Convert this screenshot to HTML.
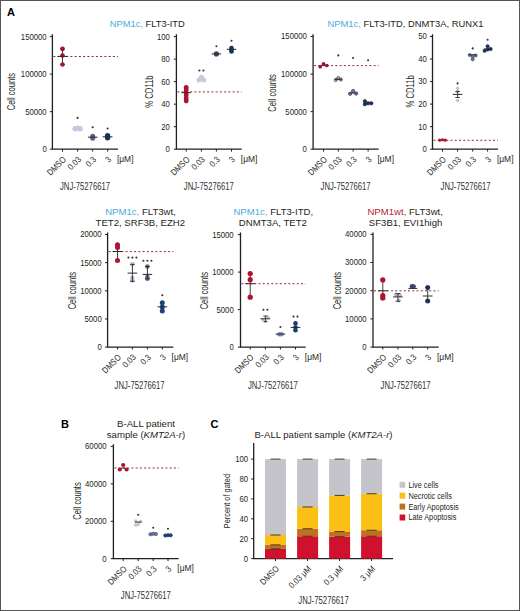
<!DOCTYPE html>
<html><head><meta charset="utf-8"><style>
html,body{margin:0;padding:0;background:#fff;}
svg{display:block;font-family:"Liberation Sans", sans-serif;}
</style></head><body>
<svg width="520" height="611" viewBox="0 0 520 611">
<rect x="0.5" y="0.5" width="519" height="610" fill="#fff" stroke="#555" stroke-width="1"/>
<text x="7.00" y="16.20" font-size="11" text-anchor="start" fill="#000" font-weight="bold">A</text>
<text x="61.00" y="428.20" font-size="11" text-anchor="start" fill="#000" font-weight="bold">B</text>
<text x="210.50" y="428.20" font-size="11" text-anchor="start" fill="#000" font-weight="bold">C</text>
<text x="109.8" y="26.9" font-size="9.6" fill="#231f20" textLength="75" lengthAdjust="spacingAndGlyphs"><tspan fill="#4aaade">NPM1c,</tspan> FLT3-ITD</text>
<text x="327.5" y="26.9" font-size="9.6" fill="#231f20" textLength="156" lengthAdjust="spacingAndGlyphs"><tspan fill="#4aaade">NPM1c,</tspan> FLT3-ITD, DNMT3A, RUNX1</text>
<text x="140.5" y="214.6" font-size="9.6" fill="#231f20" text-anchor="middle"><tspan fill="#4aaade">NPM1c,</tspan> FLT3wt,</text>
<text x="140.30" y="226.20" font-size="9.6" text-anchor="middle" fill="#231f20">TET2, SRF3B, EZH2</text>
<text x="273.3" y="214.6" font-size="9.6" fill="#231f20" text-anchor="middle"><tspan fill="#4aaade">NPM1c,</tspan> FLT3-ITD,</text>
<text x="272.90" y="226.20" font-size="9.6" text-anchor="middle" fill="#231f20">DNMT3A, TET2</text>
<text x="405.2" y="214.6" font-size="9.6" fill="#231f20" text-anchor="middle"><tspan fill="#b81c36">NPM1wt,</tspan> FLT3wt,</text>
<text x="405.60" y="226.20" font-size="9.6" text-anchor="middle" fill="#231f20">SF3B1, EVI1high</text>
<text x="146.00" y="426.80" font-size="9.6" text-anchor="middle" fill="#231f20">B-ALL patient</text>
<text x="146" y="438.4" font-size="9.6" fill="#231f20" text-anchor="middle">sample (<tspan font-style="italic">KMT2A-r</tspan>)</text>
<text x="254.5" y="438.4" font-size="9.6" fill="#231f20" textLength="138" lengthAdjust="spacingAndGlyphs">B-ALL patient sample (<tspan font-style="italic">KMT2A-r</tspan>)</text>
<path d="M52.40 34.20 V149.20 H118.00" fill="none" stroke="#231f20" stroke-width="1.3"/>
<path d="M49.80 149.20 H52.40" stroke="#231f20" stroke-width="1"/>
<text x="46.70" y="152.10" font-size="8.2" text-anchor="end" fill="#231f20" textLength="4.31" lengthAdjust="spacingAndGlyphs">0</text>
<path d="M49.80 111.67 H52.40" stroke="#231f20" stroke-width="1"/>
<text x="46.70" y="114.57" font-size="8.2" text-anchor="end" fill="#231f20" textLength="21.55" lengthAdjust="spacingAndGlyphs">50000</text>
<path d="M49.80 74.13 H52.40" stroke="#231f20" stroke-width="1"/>
<text x="46.70" y="77.03" font-size="8.2" text-anchor="end" fill="#231f20" textLength="25.86" lengthAdjust="spacingAndGlyphs">100000</text>
<path d="M49.80 36.60 H52.40" stroke="#231f20" stroke-width="1"/>
<text x="46.70" y="39.50" font-size="8.2" text-anchor="end" fill="#231f20" textLength="25.86" lengthAdjust="spacingAndGlyphs">150000</text>
<path d="M62.50 149.20 V151.60" stroke="#231f20" stroke-width="1"/>
<path d="M77.60 149.20 V151.60" stroke="#231f20" stroke-width="1"/>
<path d="M92.70 149.20 V151.60" stroke="#231f20" stroke-width="1"/>
<path d="M107.60 149.20 V151.60" stroke="#231f20" stroke-width="1"/>
<text x="66.60" y="160.00" font-size="8.8" text-anchor="end" fill="#231f20" textLength="22.70" lengthAdjust="spacingAndGlyphs" transform="rotate(-45 66.60 160.00)">DMSO</text>
<text x="81.70" y="160.00" font-size="8.8" text-anchor="end" fill="#231f20" textLength="14.73" lengthAdjust="spacingAndGlyphs" transform="rotate(-45 81.70 160.00)">0.03</text>
<text x="96.80" y="160.00" font-size="8.8" text-anchor="end" fill="#231f20" textLength="10.52" lengthAdjust="spacingAndGlyphs" transform="rotate(-45 96.80 160.00)">0.3</text>
<text x="111.70" y="160.00" font-size="8.8" text-anchor="end" fill="#231f20" textLength="4.21" lengthAdjust="spacingAndGlyphs" transform="rotate(-45 111.70 160.00)">3</text>
<text x="116.90" y="161.70" font-size="8.2" text-anchor="start" fill="#231f20" textLength="16.60" lengthAdjust="spacingAndGlyphs">[μM]</text>
<text x="85.00" y="189.80" font-size="10.4" text-anchor="middle" fill="#333" textLength="50.00" lengthAdjust="spacingAndGlyphs">JNJ-75276617</text>
<text x="15.30" y="91.60" font-size="10.0" text-anchor="middle" fill="#231f20" textLength="37.50" lengthAdjust="spacingAndGlyphs" transform="rotate(-90 15.30 91.60)">Cell counts</text>
<path d="M53.40 56.50 H118.00" stroke="#8e2a42" stroke-width="1" stroke-dasharray="2 2.25"/>
<path d="M62.50 48.90 V64.50 M60.20 48.90 H64.80 M60.20 64.50 H64.80" stroke="#2a2a2a" stroke-width="0.9" fill="none"/>
<circle cx="62.50" cy="48.90" r="2.3" fill="#a3142f"/>
<circle cx="62.50" cy="55.50" r="2.3" fill="#a3142f"/>
<circle cx="62.50" cy="64.50" r="2.3" fill="#a3142f"/>
<path d="M57.30 56.40 H67.70" stroke="#2a2a2a" stroke-width="1"/>
<circle cx="75.10" cy="128.80" r="2.7" fill="#c6c6de"/>
<circle cx="77.60" cy="128.20" r="2.7" fill="#c6c6de"/>
<circle cx="80.10" cy="128.80" r="2.7" fill="#c6c6de"/>
<circle cx="77.60" cy="117.90" r="1.05" fill="#333"/>
<circle cx="92.70" cy="136.20" r="2.5" fill="#58637e"/>
<circle cx="92.70" cy="138.20" r="2.5" fill="#58637e"/>
<path d="M87.90 137.20 H97.50" stroke="#2a2a2a" stroke-width="1"/>
<circle cx="92.70" cy="127.30" r="1.05" fill="#333"/>
<circle cx="107.60" cy="135.80" r="2.7" fill="#16365c"/>
<circle cx="107.60" cy="137.80" r="2.7" fill="#16365c"/>
<path d="M102.70 136.80 H112.50" stroke="#2a2a2a" stroke-width="1"/>
<circle cx="107.60" cy="128.50" r="1.05" fill="#333"/>
<path d="M176.40 34.20 V149.20 H241.70" fill="none" stroke="#231f20" stroke-width="1.3"/>
<path d="M173.80 149.20 H176.40" stroke="#231f20" stroke-width="1"/>
<text x="169.90" y="152.10" font-size="8.2" text-anchor="end" fill="#231f20" textLength="4.31" lengthAdjust="spacingAndGlyphs">0</text>
<path d="M173.80 126.68 H176.40" stroke="#231f20" stroke-width="1"/>
<text x="169.90" y="129.58" font-size="8.2" text-anchor="end" fill="#231f20" textLength="8.62" lengthAdjust="spacingAndGlyphs">20</text>
<path d="M173.80 104.16 H176.40" stroke="#231f20" stroke-width="1"/>
<text x="169.90" y="107.06" font-size="8.2" text-anchor="end" fill="#231f20" textLength="8.62" lengthAdjust="spacingAndGlyphs">40</text>
<path d="M173.80 81.64 H176.40" stroke="#231f20" stroke-width="1"/>
<text x="169.90" y="84.54" font-size="8.2" text-anchor="end" fill="#231f20" textLength="8.62" lengthAdjust="spacingAndGlyphs">60</text>
<path d="M173.80 59.12 H176.40" stroke="#231f20" stroke-width="1"/>
<text x="169.90" y="62.02" font-size="8.2" text-anchor="end" fill="#231f20" textLength="8.62" lengthAdjust="spacingAndGlyphs">80</text>
<path d="M173.80 36.60 H176.40" stroke="#231f20" stroke-width="1"/>
<text x="169.90" y="39.50" font-size="8.2" text-anchor="end" fill="#231f20" textLength="12.93" lengthAdjust="spacingAndGlyphs">100</text>
<path d="M186.20 149.20 V151.60" stroke="#231f20" stroke-width="1"/>
<path d="M201.40 149.20 V151.60" stroke="#231f20" stroke-width="1"/>
<path d="M216.40 149.20 V151.60" stroke="#231f20" stroke-width="1"/>
<path d="M231.50 149.20 V151.60" stroke="#231f20" stroke-width="1"/>
<text x="190.30" y="160.00" font-size="8.8" text-anchor="end" fill="#231f20" textLength="22.70" lengthAdjust="spacingAndGlyphs" transform="rotate(-45 190.30 160.00)">DMSO</text>
<text x="205.50" y="160.00" font-size="8.8" text-anchor="end" fill="#231f20" textLength="14.73" lengthAdjust="spacingAndGlyphs" transform="rotate(-45 205.50 160.00)">0.03</text>
<text x="220.50" y="160.00" font-size="8.8" text-anchor="end" fill="#231f20" textLength="10.52" lengthAdjust="spacingAndGlyphs" transform="rotate(-45 220.50 160.00)">0.3</text>
<text x="235.60" y="160.00" font-size="8.8" text-anchor="end" fill="#231f20" textLength="4.21" lengthAdjust="spacingAndGlyphs" transform="rotate(-45 235.60 160.00)">3</text>
<text x="240.80" y="161.70" font-size="8.2" text-anchor="start" fill="#231f20" textLength="16.60" lengthAdjust="spacingAndGlyphs">[μM]</text>
<text x="208.80" y="189.80" font-size="10.4" text-anchor="middle" fill="#333" textLength="50.00" lengthAdjust="spacingAndGlyphs">JNJ-75276617</text>
<text x="153.30" y="91.50" font-size="11" text-anchor="middle" fill="#231f20" textLength="32.30" lengthAdjust="spacingAndGlyphs" transform="rotate(-90 153.30 91.50)">% CD11b</text>
<path d="M177.40 91.90 H241.70" stroke="#8e2a42" stroke-width="1" stroke-dasharray="2 2.25"/>
<path d="M186.20 88.00 V100.00 M183.90 88.00 H188.50 M183.90 100.00 H188.50" stroke="#2a2a2a" stroke-width="0.9" fill="none"/>
<circle cx="186.20" cy="87.50" r="2.4" fill="#b0122f"/>
<circle cx="186.20" cy="90.00" r="2.4" fill="#b0122f"/>
<circle cx="186.20" cy="92.50" r="2.4" fill="#b0122f"/>
<circle cx="186.20" cy="95.00" r="2.4" fill="#b0122f"/>
<circle cx="186.20" cy="98.00" r="2.4" fill="#b0122f"/>
<circle cx="186.20" cy="101.00" r="2.4" fill="#b0122f"/>
<path d="M181.40 92.70 H191.00" stroke="#2a2a2a" stroke-width="1"/>
<circle cx="201.40" cy="77.20" r="2.5" fill="#c8c8de"/>
<circle cx="199.00" cy="80.00" r="2.5" fill="#c8c8de"/>
<circle cx="203.80" cy="80.00" r="2.5" fill="#c8c8de"/>
<circle cx="199.40" cy="70.50" r="1.05" fill="#333"/>
<circle cx="203.40" cy="70.50" r="1.05" fill="#333"/>
<circle cx="216.40" cy="53.90" r="2.6" fill="#3e4762"/>
<path d="M211.70 53.90 H221.10" stroke="#2a2a2a" stroke-width="1"/>
<circle cx="216.40" cy="46.20" r="1.05" fill="#333"/>
<circle cx="231.50" cy="48.00" r="2.3" fill="#16365c"/>
<circle cx="231.50" cy="50.00" r="2.3" fill="#16365c"/>
<circle cx="231.50" cy="51.40" r="2.3" fill="#16365c"/>
<path d="M226.70 49.30 H236.30" stroke="#2a2a2a" stroke-width="1"/>
<circle cx="231.50" cy="40.80" r="1.05" fill="#333"/>
<path d="M313.10 34.20 V149.20 H378.60" fill="none" stroke="#231f20" stroke-width="1.3"/>
<path d="M310.50 149.20 H313.10" stroke="#231f20" stroke-width="1"/>
<text x="306.90" y="152.10" font-size="8.2" text-anchor="end" fill="#231f20" textLength="4.31" lengthAdjust="spacingAndGlyphs">0</text>
<path d="M310.50 111.63 H313.10" stroke="#231f20" stroke-width="1"/>
<text x="306.90" y="114.53" font-size="8.2" text-anchor="end" fill="#231f20" textLength="21.55" lengthAdjust="spacingAndGlyphs">50000</text>
<path d="M310.50 74.07 H313.10" stroke="#231f20" stroke-width="1"/>
<text x="306.90" y="76.97" font-size="8.2" text-anchor="end" fill="#231f20" textLength="25.86" lengthAdjust="spacingAndGlyphs">100000</text>
<path d="M310.50 36.50 H313.10" stroke="#231f20" stroke-width="1"/>
<text x="306.90" y="39.40" font-size="8.2" text-anchor="end" fill="#231f20" textLength="25.86" lengthAdjust="spacingAndGlyphs">150000</text>
<path d="M323.50 149.20 V151.60" stroke="#231f20" stroke-width="1"/>
<path d="M338.30 149.20 V151.60" stroke="#231f20" stroke-width="1"/>
<path d="M353.10 149.20 V151.60" stroke="#231f20" stroke-width="1"/>
<path d="M368.10 149.20 V151.60" stroke="#231f20" stroke-width="1"/>
<text x="327.60" y="160.00" font-size="8.8" text-anchor="end" fill="#231f20" textLength="22.70" lengthAdjust="spacingAndGlyphs" transform="rotate(-45 327.60 160.00)">DMSO</text>
<text x="342.40" y="160.00" font-size="8.8" text-anchor="end" fill="#231f20" textLength="14.73" lengthAdjust="spacingAndGlyphs" transform="rotate(-45 342.40 160.00)">0.03</text>
<text x="357.20" y="160.00" font-size="8.8" text-anchor="end" fill="#231f20" textLength="10.52" lengthAdjust="spacingAndGlyphs" transform="rotate(-45 357.20 160.00)">0.3</text>
<text x="372.20" y="160.00" font-size="8.8" text-anchor="end" fill="#231f20" textLength="4.21" lengthAdjust="spacingAndGlyphs" transform="rotate(-45 372.20 160.00)">3</text>
<text x="377.40" y="161.70" font-size="8.2" text-anchor="start" fill="#231f20" textLength="16.60" lengthAdjust="spacingAndGlyphs">[μM]</text>
<text x="345.60" y="189.80" font-size="10.4" text-anchor="middle" fill="#333" textLength="50.00" lengthAdjust="spacingAndGlyphs">JNJ-75276617</text>
<text x="275.90" y="92.90" font-size="10.0" text-anchor="middle" fill="#231f20" textLength="37.50" lengthAdjust="spacingAndGlyphs" transform="rotate(-90 275.90 92.90)">Cell counts</text>
<path d="M314.10 65.60 H378.60" stroke="#8e2a42" stroke-width="1" stroke-dasharray="2 2.25"/>
<circle cx="320.20" cy="66.70" r="1.85" fill="#9a1530"/>
<circle cx="323.50" cy="63.80" r="1.85" fill="#9a1530"/>
<circle cx="326.80" cy="65.50" r="1.85" fill="#9a1530"/>
<path d="M321.30 65.30 H325.70" stroke="#2a2a2a" stroke-width="1"/>
<circle cx="335.70" cy="80.00" r="1.6" fill="#a8a8b0" stroke="#2a2a2a" stroke-width="0.6"/>
<circle cx="338.30" cy="78.00" r="1.6" fill="#a8a8b0" stroke="#2a2a2a" stroke-width="0.6"/>
<circle cx="340.90" cy="79.50" r="1.6" fill="#a8a8b0" stroke="#2a2a2a" stroke-width="0.6"/>
<path d="M334.80 79.30 H341.80" stroke="#2a2a2a" stroke-width="1"/>
<circle cx="338.30" cy="55.40" r="1.05" fill="#333"/>
<circle cx="350.10" cy="93.80" r="1.7" fill="#6a7898" stroke="#2b3350" stroke-width="0.6"/>
<circle cx="353.10" cy="91.00" r="1.7" fill="#6a7898" stroke="#2b3350" stroke-width="0.6"/>
<circle cx="356.10" cy="93.50" r="1.7" fill="#6a7898" stroke="#2b3350" stroke-width="0.6"/>
<path d="M349.60 93.00 H356.60" stroke="#2a2a2a" stroke-width="1"/>
<circle cx="353.10" cy="58.00" r="1.05" fill="#333"/>
<circle cx="364.90" cy="101.20" r="1.7" fill="#1a3560" stroke="#10203c" stroke-width="0.6"/>
<circle cx="364.90" cy="104.20" r="1.7" fill="#1a3560" stroke="#10203c" stroke-width="0.6"/>
<circle cx="368.10" cy="103.30" r="1.7" fill="#1a3560" stroke="#10203c" stroke-width="0.6"/>
<circle cx="371.30" cy="103.30" r="1.7" fill="#1a3560" stroke="#10203c" stroke-width="0.6"/>
<path d="M364.60 103.00 H371.60" stroke="#2a2a2a" stroke-width="1"/>
<circle cx="368.10" cy="60.20" r="1.05" fill="#333"/>
<path d="M432.50 34.20 V149.20 H498.00" fill="none" stroke="#231f20" stroke-width="1.3"/>
<path d="M429.90 149.20 H432.50" stroke="#231f20" stroke-width="1"/>
<text x="426.90" y="152.10" font-size="8.2" text-anchor="end" fill="#231f20" textLength="4.31" lengthAdjust="spacingAndGlyphs">0</text>
<path d="M429.90 126.66 H432.50" stroke="#231f20" stroke-width="1"/>
<text x="426.90" y="129.56" font-size="8.2" text-anchor="end" fill="#231f20" textLength="8.62" lengthAdjust="spacingAndGlyphs">10</text>
<path d="M429.90 104.12 H432.50" stroke="#231f20" stroke-width="1"/>
<text x="426.90" y="107.02" font-size="8.2" text-anchor="end" fill="#231f20" textLength="8.62" lengthAdjust="spacingAndGlyphs">20</text>
<path d="M429.90 81.58 H432.50" stroke="#231f20" stroke-width="1"/>
<text x="426.90" y="84.48" font-size="8.2" text-anchor="end" fill="#231f20" textLength="8.62" lengthAdjust="spacingAndGlyphs">30</text>
<path d="M429.90 59.04 H432.50" stroke="#231f20" stroke-width="1"/>
<text x="426.90" y="61.94" font-size="8.2" text-anchor="end" fill="#231f20" textLength="8.62" lengthAdjust="spacingAndGlyphs">40</text>
<path d="M429.90 36.50 H432.50" stroke="#231f20" stroke-width="1"/>
<text x="426.90" y="39.40" font-size="8.2" text-anchor="end" fill="#231f20" textLength="8.62" lengthAdjust="spacingAndGlyphs">50</text>
<path d="M442.50 149.20 V151.60" stroke="#231f20" stroke-width="1"/>
<path d="M457.60 149.20 V151.60" stroke="#231f20" stroke-width="1"/>
<path d="M472.70 149.20 V151.60" stroke="#231f20" stroke-width="1"/>
<path d="M487.60 149.20 V151.60" stroke="#231f20" stroke-width="1"/>
<text x="446.60" y="160.00" font-size="8.8" text-anchor="end" fill="#231f20" textLength="22.70" lengthAdjust="spacingAndGlyphs" transform="rotate(-45 446.60 160.00)">DMSO</text>
<text x="461.70" y="160.00" font-size="8.8" text-anchor="end" fill="#231f20" textLength="14.73" lengthAdjust="spacingAndGlyphs" transform="rotate(-45 461.70 160.00)">0.03</text>
<text x="476.80" y="160.00" font-size="8.8" text-anchor="end" fill="#231f20" textLength="10.52" lengthAdjust="spacingAndGlyphs" transform="rotate(-45 476.80 160.00)">0.3</text>
<text x="491.70" y="160.00" font-size="8.8" text-anchor="end" fill="#231f20" textLength="4.21" lengthAdjust="spacingAndGlyphs" transform="rotate(-45 491.70 160.00)">3</text>
<text x="496.90" y="161.70" font-size="8.2" text-anchor="start" fill="#231f20" textLength="16.60" lengthAdjust="spacingAndGlyphs">[μM]</text>
<text x="465.60" y="189.80" font-size="10.4" text-anchor="middle" fill="#333" textLength="50.00" lengthAdjust="spacingAndGlyphs">JNJ-75276617</text>
<text x="414.30" y="91.40" font-size="11" text-anchor="middle" fill="#231f20" textLength="32.30" lengthAdjust="spacingAndGlyphs" transform="rotate(-90 414.30 91.40)">% CD11b</text>
<path d="M433.50 140.30 H498.00" stroke="#8e2a42" stroke-width="1" stroke-dasharray="2 2.25"/>
<circle cx="439.70" cy="140.20" r="1.6" fill="#b0122f"/>
<circle cx="442.50" cy="139.80" r="1.6" fill="#b0122f"/>
<circle cx="445.30" cy="140.20" r="1.6" fill="#b0122f"/>
<circle cx="457.60" cy="88.30" r="1.7" fill="#c4c4cc"/>
<circle cx="457.60" cy="91.50" r="1.7" fill="#c4c4cc"/>
<circle cx="457.60" cy="100.40" r="1.7" fill="#c4c4cc"/>
<path d="M457.60 91.40 V97.50 M455.30 91.40 H459.90 M455.30 97.50 H459.90" stroke="#2a2a2a" stroke-width="0.9" fill="none"/>
<path d="M452.80 94.40 H462.40" stroke="#2a2a2a" stroke-width="1"/>
<circle cx="457.60" cy="83.40" r="1.05" fill="#333"/>
<circle cx="469.70" cy="55.00" r="1.6" fill="#6d7b9a" stroke="#2b3350" stroke-width="0.5"/>
<circle cx="475.70" cy="55.50" r="1.6" fill="#6d7b9a" stroke="#2b3350" stroke-width="0.5"/>
<circle cx="472.70" cy="56.50" r="1.6" fill="#6d7b9a" stroke="#2b3350" stroke-width="0.5"/>
<circle cx="472.70" cy="59.30" r="1.6" fill="#6d7b9a" stroke="#2b3350" stroke-width="0.5"/>
<path d="M468.90 54.80 H476.50" stroke="#2a2a2a" stroke-width="1"/>
<circle cx="472.70" cy="48.40" r="1.05" fill="#333"/>
<circle cx="487.60" cy="46.30" r="1.7" fill="#1d3a64" stroke="#0f1e38" stroke-width="0.5"/>
<circle cx="484.60" cy="50.80" r="1.7" fill="#1d3a64" stroke="#0f1e38" stroke-width="0.5"/>
<circle cx="487.60" cy="49.50" r="1.7" fill="#1d3a64" stroke="#0f1e38" stroke-width="0.5"/>
<circle cx="490.60" cy="49.00" r="1.7" fill="#1d3a64" stroke="#0f1e38" stroke-width="0.5"/>
<path d="M483.80 49.00 H491.40" stroke="#2a2a2a" stroke-width="1"/>
<circle cx="487.60" cy="39.80" r="1.05" fill="#333"/>
<path d="M107.60 232.40 V347.10 H173.40" fill="none" stroke="#231f20" stroke-width="1.3"/>
<path d="M105.00 347.10 H107.60" stroke="#231f20" stroke-width="1"/>
<text x="101.70" y="350.00" font-size="8.2" text-anchor="end" fill="#231f20" textLength="4.31" lengthAdjust="spacingAndGlyphs">0</text>
<path d="M105.00 318.95 H107.60" stroke="#231f20" stroke-width="1"/>
<text x="101.70" y="321.85" font-size="8.2" text-anchor="end" fill="#231f20" textLength="17.24" lengthAdjust="spacingAndGlyphs">5000</text>
<path d="M105.00 290.80 H107.60" stroke="#231f20" stroke-width="1"/>
<text x="101.70" y="293.70" font-size="8.2" text-anchor="end" fill="#231f20" textLength="21.55" lengthAdjust="spacingAndGlyphs">10000</text>
<path d="M105.00 262.65 H107.60" stroke="#231f20" stroke-width="1"/>
<text x="101.70" y="265.55" font-size="8.2" text-anchor="end" fill="#231f20" textLength="21.55" lengthAdjust="spacingAndGlyphs">15000</text>
<path d="M105.00 234.50 H107.60" stroke="#231f20" stroke-width="1"/>
<text x="101.70" y="237.40" font-size="8.2" text-anchor="end" fill="#231f20" textLength="21.55" lengthAdjust="spacingAndGlyphs">20000</text>
<path d="M117.50 347.10 V349.50" stroke="#231f20" stroke-width="1"/>
<path d="M132.40 347.10 V349.50" stroke="#231f20" stroke-width="1"/>
<path d="M147.40 347.10 V349.50" stroke="#231f20" stroke-width="1"/>
<path d="M162.30 347.10 V349.50" stroke="#231f20" stroke-width="1"/>
<text x="121.60" y="357.90" font-size="8.8" text-anchor="end" fill="#231f20" textLength="22.70" lengthAdjust="spacingAndGlyphs" transform="rotate(-45 121.60 357.90)">DMSO</text>
<text x="136.50" y="357.90" font-size="8.8" text-anchor="end" fill="#231f20" textLength="14.73" lengthAdjust="spacingAndGlyphs" transform="rotate(-45 136.50 357.90)">0.03</text>
<text x="151.50" y="357.90" font-size="8.8" text-anchor="end" fill="#231f20" textLength="10.52" lengthAdjust="spacingAndGlyphs" transform="rotate(-45 151.50 357.90)">0.3</text>
<text x="166.40" y="357.90" font-size="8.8" text-anchor="end" fill="#231f20" textLength="4.21" lengthAdjust="spacingAndGlyphs" transform="rotate(-45 166.40 357.90)">3</text>
<text x="171.60" y="359.60" font-size="8.2" text-anchor="start" fill="#231f20" textLength="16.60" lengthAdjust="spacingAndGlyphs">[μM]</text>
<text x="139.60" y="389.40" font-size="10.4" text-anchor="middle" fill="#333" textLength="50.00" lengthAdjust="spacingAndGlyphs">JNJ-75276617</text>
<text x="75.60" y="290.60" font-size="10.0" text-anchor="middle" fill="#231f20" textLength="37.50" lengthAdjust="spacingAndGlyphs" transform="rotate(-90 75.60 290.60)">Cell counts</text>
<path d="M108.60 251.60 H173.40" stroke="#8e2a42" stroke-width="1" stroke-dasharray="2 2.25"/>
<path d="M117.50 244.80 V260.60 M115.20 244.80 H119.80 M115.20 260.60 H119.80" stroke="#2a2a2a" stroke-width="0.9" fill="none"/>
<circle cx="117.50" cy="244.80" r="2.5" fill="#b0122f"/>
<circle cx="117.50" cy="247.50" r="2.5" fill="#b0122f"/>
<circle cx="117.50" cy="260.60" r="2.5" fill="#b0122f"/>
<path d="M112.70 251.50 H122.30" stroke="#2a2a2a" stroke-width="1"/>
<circle cx="132.40" cy="264.20" r="2.2" fill="#b4b8d2"/>
<circle cx="132.40" cy="278.00" r="2.2" fill="#b4b8d2"/>
<circle cx="132.40" cy="280.60" r="2.2" fill="#b4b8d2"/>
<path d="M132.40 264.40 V281.30 M130.10 264.40 H134.70 M130.10 281.30 H134.70" stroke="#2a2a2a" stroke-width="0.9" fill="none"/>
<path d="M127.60 273.10 H137.20" stroke="#2a2a2a" stroke-width="1"/>
<circle cx="128.40" cy="257.60" r="1.05" fill="#333"/>
<circle cx="132.40" cy="257.60" r="1.05" fill="#333"/>
<circle cx="136.40" cy="257.60" r="1.05" fill="#333"/>
<circle cx="147.40" cy="266.50" r="2.3" fill="#5d6e92"/>
<circle cx="147.40" cy="277.00" r="2.3" fill="#5d6e92"/>
<circle cx="147.40" cy="278.80" r="2.3" fill="#5d6e92"/>
<path d="M147.40 266.50 V278.80 M145.10 266.50 H149.70 M145.10 278.80 H149.70" stroke="#2a2a2a" stroke-width="0.9" fill="none"/>
<path d="M142.60 274.40 H152.20" stroke="#2a2a2a" stroke-width="1"/>
<circle cx="143.40" cy="260.80" r="1.05" fill="#333"/>
<circle cx="147.40" cy="260.80" r="1.05" fill="#333"/>
<circle cx="151.40" cy="260.80" r="1.05" fill="#333"/>
<circle cx="162.30" cy="302.80" r="2.5" fill="#1a4476"/>
<circle cx="162.30" cy="307.00" r="2.5" fill="#1a4476"/>
<circle cx="162.30" cy="311.00" r="2.5" fill="#1a4476"/>
<path d="M157.50 306.80 H167.10" stroke="#2a2a2a" stroke-width="1"/>
<circle cx="162.30" cy="295.30" r="1.05" fill="#333"/>
<path d="M240.50 232.40 V347.10 H305.70" fill="none" stroke="#231f20" stroke-width="1.3"/>
<path d="M237.90 347.10 H240.50" stroke="#231f20" stroke-width="1"/>
<text x="233.70" y="350.00" font-size="8.2" text-anchor="end" fill="#231f20" textLength="4.31" lengthAdjust="spacingAndGlyphs">0</text>
<path d="M237.90 309.60 H240.50" stroke="#231f20" stroke-width="1"/>
<text x="233.70" y="312.50" font-size="8.2" text-anchor="end" fill="#231f20" textLength="17.24" lengthAdjust="spacingAndGlyphs">5000</text>
<path d="M237.90 272.10 H240.50" stroke="#231f20" stroke-width="1"/>
<text x="233.70" y="275.00" font-size="8.2" text-anchor="end" fill="#231f20" textLength="21.55" lengthAdjust="spacingAndGlyphs">10000</text>
<path d="M237.90 234.60 H240.50" stroke="#231f20" stroke-width="1"/>
<text x="233.70" y="237.50" font-size="8.2" text-anchor="end" fill="#231f20" textLength="21.55" lengthAdjust="spacingAndGlyphs">15000</text>
<path d="M250.20 347.10 V349.50" stroke="#231f20" stroke-width="1"/>
<path d="M265.40 347.10 V349.50" stroke="#231f20" stroke-width="1"/>
<path d="M280.40 347.10 V349.50" stroke="#231f20" stroke-width="1"/>
<path d="M295.50 347.10 V349.50" stroke="#231f20" stroke-width="1"/>
<text x="254.30" y="357.90" font-size="8.8" text-anchor="end" fill="#231f20" textLength="22.70" lengthAdjust="spacingAndGlyphs" transform="rotate(-45 254.30 357.90)">DMSO</text>
<text x="269.50" y="357.90" font-size="8.8" text-anchor="end" fill="#231f20" textLength="14.73" lengthAdjust="spacingAndGlyphs" transform="rotate(-45 269.50 357.90)">0.03</text>
<text x="284.50" y="357.90" font-size="8.8" text-anchor="end" fill="#231f20" textLength="10.52" lengthAdjust="spacingAndGlyphs" transform="rotate(-45 284.50 357.90)">0.3</text>
<text x="299.60" y="357.90" font-size="8.8" text-anchor="end" fill="#231f20" textLength="4.21" lengthAdjust="spacingAndGlyphs" transform="rotate(-45 299.60 357.90)">3</text>
<text x="304.80" y="359.60" font-size="8.2" text-anchor="start" fill="#231f20" textLength="16.60" lengthAdjust="spacingAndGlyphs">[μM]</text>
<text x="272.90" y="389.40" font-size="10.4" text-anchor="middle" fill="#333" textLength="50.00" lengthAdjust="spacingAndGlyphs">JNJ-75276617</text>
<text x="208.00" y="290.60" font-size="10.0" text-anchor="middle" fill="#231f20" textLength="37.50" lengthAdjust="spacingAndGlyphs" transform="rotate(-90 208.00 290.60)">Cell counts</text>
<path d="M241.50 283.70 H305.70" stroke="#8e2a42" stroke-width="1" stroke-dasharray="2 2.25"/>
<path d="M250.20 273.60 V297.20 M247.90 273.60 H252.50 M247.90 297.20 H252.50" stroke="#2a2a2a" stroke-width="0.9" fill="none"/>
<circle cx="250.20" cy="273.60" r="2.6" fill="#b0122f"/>
<circle cx="250.20" cy="279.70" r="2.6" fill="#b0122f"/>
<circle cx="250.20" cy="297.20" r="2.6" fill="#b0122f"/>
<path d="M245.40 283.70 H255.00" stroke="#2a2a2a" stroke-width="1"/>
<circle cx="262.60" cy="319.50" r="1.6" fill="#bcc0dc"/>
<circle cx="267.90" cy="317.20" r="1.6" fill="#bcc0dc"/>
<circle cx="265.40" cy="321.50" r="1.6" fill="#bcc0dc"/>
<path d="M265.40 316.00 V321.60 M263.40 316.00 H267.40 M263.40 321.60 H267.40" stroke="#2a2a2a" stroke-width="0.9" fill="none"/>
<path d="M260.60 318.80 H270.20" stroke="#2a2a2a" stroke-width="1"/>
<circle cx="263.40" cy="309.80" r="1.05" fill="#333"/>
<circle cx="267.40" cy="309.80" r="1.05" fill="#333"/>
<circle cx="279.40" cy="334.20" r="2.3" fill="#7b8cbc"/>
<circle cx="281.40" cy="334.20" r="2.3" fill="#7b8cbc"/>
<path d="M275.60 334.10 H285.20" stroke="#2a2a2a" stroke-width="1"/>
<circle cx="280.40" cy="327.00" r="1.05" fill="#333"/>
<circle cx="295.50" cy="323.30" r="2.3" fill="#1a3f6f"/>
<circle cx="295.50" cy="327.20" r="2.3" fill="#1a3f6f"/>
<circle cx="295.50" cy="330.30" r="2.3" fill="#1a3f6f"/>
<path d="M290.70 327.40 H300.30" stroke="#2a2a2a" stroke-width="1"/>
<circle cx="293.50" cy="316.60" r="1.05" fill="#333"/>
<circle cx="297.50" cy="316.60" r="1.05" fill="#333"/>
<path d="M373.00 232.40 V347.10 H438.70" fill="none" stroke="#231f20" stroke-width="1.3"/>
<path d="M370.40 347.10 H373.00" stroke="#231f20" stroke-width="1"/>
<text x="366.60" y="350.00" font-size="8.2" text-anchor="end" fill="#231f20" textLength="4.31" lengthAdjust="spacingAndGlyphs">0</text>
<path d="M370.40 318.90 H373.00" stroke="#231f20" stroke-width="1"/>
<text x="366.60" y="321.80" font-size="8.2" text-anchor="end" fill="#231f20" textLength="21.55" lengthAdjust="spacingAndGlyphs">10000</text>
<path d="M370.40 290.70 H373.00" stroke="#231f20" stroke-width="1"/>
<text x="366.60" y="293.60" font-size="8.2" text-anchor="end" fill="#231f20" textLength="21.55" lengthAdjust="spacingAndGlyphs">20000</text>
<path d="M370.40 262.50 H373.00" stroke="#231f20" stroke-width="1"/>
<text x="366.60" y="265.40" font-size="8.2" text-anchor="end" fill="#231f20" textLength="21.55" lengthAdjust="spacingAndGlyphs">30000</text>
<path d="M370.40 234.30 H373.00" stroke="#231f20" stroke-width="1"/>
<text x="366.60" y="237.20" font-size="8.2" text-anchor="end" fill="#231f20" textLength="21.55" lengthAdjust="spacingAndGlyphs">40000</text>
<path d="M382.80 347.10 V349.50" stroke="#231f20" stroke-width="1"/>
<path d="M397.90 347.10 V349.50" stroke="#231f20" stroke-width="1"/>
<path d="M412.80 347.10 V349.50" stroke="#231f20" stroke-width="1"/>
<path d="M427.70 347.10 V349.50" stroke="#231f20" stroke-width="1"/>
<text x="386.90" y="357.90" font-size="8.8" text-anchor="end" fill="#231f20" textLength="22.70" lengthAdjust="spacingAndGlyphs" transform="rotate(-45 386.90 357.90)">DMSO</text>
<text x="402.00" y="357.90" font-size="8.8" text-anchor="end" fill="#231f20" textLength="14.73" lengthAdjust="spacingAndGlyphs" transform="rotate(-45 402.00 357.90)">0.03</text>
<text x="416.90" y="357.90" font-size="8.8" text-anchor="end" fill="#231f20" textLength="10.52" lengthAdjust="spacingAndGlyphs" transform="rotate(-45 416.90 357.90)">0.3</text>
<text x="431.80" y="357.90" font-size="8.8" text-anchor="end" fill="#231f20" textLength="4.21" lengthAdjust="spacingAndGlyphs" transform="rotate(-45 431.80 357.90)">3</text>
<text x="437.00" y="359.60" font-size="8.2" text-anchor="start" fill="#231f20" textLength="16.60" lengthAdjust="spacingAndGlyphs">[μM]</text>
<text x="405.60" y="389.40" font-size="10.4" text-anchor="middle" fill="#333" textLength="50.00" lengthAdjust="spacingAndGlyphs">JNJ-75276617</text>
<text x="341.30" y="290.60" font-size="10.0" text-anchor="middle" fill="#231f20" textLength="37.50" lengthAdjust="spacingAndGlyphs" transform="rotate(-90 341.30 290.60)">Cell counts</text>
<path d="M374.00 290.80 H438.70" stroke="#8e2a42" stroke-width="1" stroke-dasharray="2 2.25"/>
<path d="M382.80 279.90 V297.90 M380.50 279.90 H385.10 M380.50 297.90 H385.10" stroke="#2a2a2a" stroke-width="0.9" fill="none"/>
<circle cx="382.80" cy="279.90" r="2.6" fill="#b0122f"/>
<circle cx="382.80" cy="295.50" r="2.6" fill="#b0122f"/>
<circle cx="382.80" cy="297.90" r="2.6" fill="#b0122f"/>
<path d="M378.00 290.80 H387.60" stroke="#2a2a2a" stroke-width="1"/>
<circle cx="395.90" cy="294.50" r="1.5" fill="#c8cce0" stroke="#555" stroke-width="0.4"/>
<circle cx="399.90" cy="295.00" r="1.5" fill="#c8cce0" stroke="#555" stroke-width="0.4"/>
<circle cx="398.90" cy="300.50" r="1.5" fill="#c8cce0" stroke="#555" stroke-width="0.4"/>
<path d="M397.90 293.60 V301.30 M395.60 293.60 H400.20 M395.60 301.30 H400.20" stroke="#2a2a2a" stroke-width="0.9" fill="none"/>
<path d="M393.10 296.90 H402.70" stroke="#2a2a2a" stroke-width="1"/>
<circle cx="412.00" cy="286.30" r="2.3" fill="#3c4a6a"/>
<circle cx="413.60" cy="286.60" r="2.3" fill="#3c4a6a"/>
<path d="M408.30 288.40 H417.30" stroke="#2a2a2a" stroke-width="1"/>
<circle cx="427.70" cy="287.60" r="2.5" fill="#1f4070"/>
<circle cx="427.70" cy="300.90" r="2.5" fill="#1f4070"/>
<path d="M427.70 287.60 V300.90 M425.40 287.60 H430.00 M425.40 300.90 H430.00" stroke="#2a2a2a" stroke-width="0.9" fill="none"/>
<path d="M422.90 296.00 H432.50" stroke="#2a2a2a" stroke-width="1"/>
<path d="M113.40 444.20 V558.70 H178.70" fill="none" stroke="#231f20" stroke-width="1.3"/>
<path d="M110.80 558.70 H113.40" stroke="#231f20" stroke-width="1"/>
<text x="106.60" y="561.60" font-size="8.2" text-anchor="end" fill="#231f20" textLength="4.31" lengthAdjust="spacingAndGlyphs">0</text>
<path d="M110.80 521.27 H113.40" stroke="#231f20" stroke-width="1"/>
<text x="106.60" y="524.17" font-size="8.2" text-anchor="end" fill="#231f20" textLength="21.55" lengthAdjust="spacingAndGlyphs">20000</text>
<path d="M110.80 483.83 H113.40" stroke="#231f20" stroke-width="1"/>
<text x="106.60" y="486.73" font-size="8.2" text-anchor="end" fill="#231f20" textLength="21.55" lengthAdjust="spacingAndGlyphs">40000</text>
<path d="M110.80 446.40 H113.40" stroke="#231f20" stroke-width="1"/>
<text x="106.60" y="449.30" font-size="8.2" text-anchor="end" fill="#231f20" textLength="21.55" lengthAdjust="spacingAndGlyphs">60000</text>
<path d="M123.20 558.70 V561.10" stroke="#231f20" stroke-width="1"/>
<path d="M138.20 558.70 V561.10" stroke="#231f20" stroke-width="1"/>
<path d="M153.20 558.70 V561.10" stroke="#231f20" stroke-width="1"/>
<path d="M168.00 558.70 V561.10" stroke="#231f20" stroke-width="1"/>
<text x="127.30" y="569.50" font-size="8.8" text-anchor="end" fill="#231f20" textLength="22.70" lengthAdjust="spacingAndGlyphs" transform="rotate(-45 127.30 569.50)">DMSO</text>
<text x="142.30" y="569.50" font-size="8.8" text-anchor="end" fill="#231f20" textLength="14.73" lengthAdjust="spacingAndGlyphs" transform="rotate(-45 142.30 569.50)">0.03</text>
<text x="157.30" y="569.50" font-size="8.8" text-anchor="end" fill="#231f20" textLength="10.52" lengthAdjust="spacingAndGlyphs" transform="rotate(-45 157.30 569.50)">0.3</text>
<text x="172.10" y="569.50" font-size="8.8" text-anchor="end" fill="#231f20" textLength="4.21" lengthAdjust="spacingAndGlyphs" transform="rotate(-45 172.10 569.50)">3</text>
<text x="177.30" y="571.20" font-size="8.2" text-anchor="start" fill="#231f20" textLength="16.60" lengthAdjust="spacingAndGlyphs">[μM]</text>
<text x="145.80" y="599.40" font-size="10.4" text-anchor="middle" fill="#333" textLength="50.00" lengthAdjust="spacingAndGlyphs">JNJ-75276617</text>
<text x="80.90" y="501.00" font-size="10.0" text-anchor="middle" fill="#231f20" textLength="37.50" lengthAdjust="spacingAndGlyphs" transform="rotate(-90 80.90 501.00)">Cell counts</text>
<path d="M114.40 468.00 H178.70" stroke="#8e2a42" stroke-width="1" stroke-dasharray="2 2.25"/>
<circle cx="119.80" cy="469.50" r="2.1" fill="#b0122f"/>
<circle cx="123.20" cy="465.00" r="2.1" fill="#b0122f"/>
<circle cx="126.60" cy="469.50" r="2.1" fill="#b0122f"/>
<path d="M121.20 468.00 H125.20" stroke="#2a2a2a" stroke-width="1"/>
<circle cx="135.70" cy="521.00" r="1.7" fill="#c4c4d0"/>
<circle cx="140.70" cy="521.50" r="1.7" fill="#c4c4d0"/>
<circle cx="138.20" cy="524.50" r="1.7" fill="#c4c4d0"/>
<circle cx="135.70" cy="525.00" r="1.7" fill="#c4c4d0"/>
<path d="M135.00 522.10 H141.40" stroke="#2a2a2a" stroke-width="1"/>
<circle cx="138.20" cy="514.70" r="1.05" fill="#333"/>
<circle cx="150.50" cy="534.30" r="1.7" fill="#6878a0" stroke="#33405e" stroke-width="0.5"/>
<circle cx="153.20" cy="533.80" r="1.7" fill="#6878a0" stroke="#33405e" stroke-width="0.5"/>
<circle cx="155.90" cy="534.00" r="1.7" fill="#6878a0" stroke="#33405e" stroke-width="0.5"/>
<circle cx="153.20" cy="527.70" r="1.05" fill="#333"/>
<circle cx="165.30" cy="535.50" r="1.7" fill="#1a4a80" stroke="#0f2848" stroke-width="0.5"/>
<circle cx="168.00" cy="535.20" r="1.7" fill="#1a4a80" stroke="#0f2848" stroke-width="0.5"/>
<circle cx="170.70" cy="535.30" r="1.7" fill="#1a4a80" stroke="#0f2848" stroke-width="0.5"/>
<circle cx="168.00" cy="528.70" r="1.05" fill="#333"/>
<path d="M253.7 443 V558.6 H393" fill="none" stroke="#231f20" stroke-width="1.3"/>
<path d="M251.1 558.6 H253.7" stroke="#231f20" stroke-width="1"/>
<text x="248.10" y="561.50" font-size="8.2" text-anchor="end" fill="#231f20" textLength="4.31" lengthAdjust="spacingAndGlyphs">0</text>
<path d="M251.1 538.7 H253.7" stroke="#231f20" stroke-width="1"/>
<text x="248.10" y="541.60" font-size="8.2" text-anchor="end" fill="#231f20" textLength="8.62" lengthAdjust="spacingAndGlyphs">20</text>
<path d="M251.1 518.8000000000001 H253.7" stroke="#231f20" stroke-width="1"/>
<text x="248.10" y="521.70" font-size="8.2" text-anchor="end" fill="#231f20" textLength="8.62" lengthAdjust="spacingAndGlyphs">40</text>
<path d="M251.1 498.90000000000003 H253.7" stroke="#231f20" stroke-width="1"/>
<text x="248.10" y="501.80" font-size="8.2" text-anchor="end" fill="#231f20" textLength="8.62" lengthAdjust="spacingAndGlyphs">60</text>
<path d="M251.1 479.0 H253.7" stroke="#231f20" stroke-width="1"/>
<text x="248.10" y="481.90" font-size="8.2" text-anchor="end" fill="#231f20" textLength="8.62" lengthAdjust="spacingAndGlyphs">80</text>
<path d="M251.1 459.1 H253.7" stroke="#231f20" stroke-width="1"/>
<text x="248.10" y="462.00" font-size="8.2" text-anchor="end" fill="#231f20" textLength="12.93" lengthAdjust="spacingAndGlyphs">100</text>
<text x="229.60" y="501.10" font-size="9.8" text-anchor="middle" fill="#231f20" textLength="54.30" lengthAdjust="spacingAndGlyphs" transform="rotate(-90 229.60 501.10)">Percent of gated</text>
<rect x="265.00" y="548.85" width="21" height="9.75" fill="#d0112e"/>
<rect x="265.00" y="544.87" width="21" height="3.98" fill="#c0701e"/>
<rect x="265.00" y="535.02" width="21" height="9.85" fill="#fbc013"/>
<rect x="265.00" y="459.10" width="21" height="75.92" fill="#c4c4ca"/>
<path d="M270.50 548.85 H280.50" stroke="#3a2a20" stroke-width="0.9"/>
<path d="M270.50 544.87 H280.50" stroke="#3a2a20" stroke-width="0.9"/>
<path d="M270.50 535.02 H280.50" stroke="#3a2a20" stroke-width="0.9"/>
<path d="M270.50 459.10 H280.50" stroke="#3a2a20" stroke-width="0.9"/>
<path d="M275.50 558.6 V561.0" stroke="#231f20" stroke-width="1"/>
<rect x="297.10" y="536.21" width="21" height="22.39" fill="#d0112e"/>
<rect x="297.10" y="528.75" width="21" height="7.46" fill="#c0701e"/>
<rect x="297.10" y="506.96" width="21" height="21.79" fill="#fbc013"/>
<rect x="297.10" y="459.10" width="21" height="47.86" fill="#c4c4ca"/>
<path d="M302.60 536.21 H312.60" stroke="#3a2a20" stroke-width="0.9"/>
<path d="M302.60 528.75 H312.60" stroke="#3a2a20" stroke-width="0.9"/>
<path d="M302.60 506.96 H312.60" stroke="#3a2a20" stroke-width="0.9"/>
<path d="M302.60 459.10 H312.60" stroke="#3a2a20" stroke-width="0.9"/>
<path d="M307.60 558.6 V561.0" stroke="#231f20" stroke-width="1"/>
<rect x="329.10" y="536.71" width="21" height="21.89" fill="#d0112e"/>
<rect x="329.10" y="531.54" width="21" height="5.17" fill="#c0701e"/>
<rect x="329.10" y="495.42" width="21" height="36.12" fill="#fbc013"/>
<rect x="329.10" y="459.10" width="21" height="36.32" fill="#c4c4ca"/>
<path d="M334.60 536.71 H344.60" stroke="#3a2a20" stroke-width="0.9"/>
<path d="M334.60 531.54 H344.60" stroke="#3a2a20" stroke-width="0.9"/>
<path d="M334.60 495.42 H344.60" stroke="#3a2a20" stroke-width="0.9"/>
<path d="M334.60 459.10 H344.60" stroke="#3a2a20" stroke-width="0.9"/>
<path d="M339.60 558.6 V561.0" stroke="#231f20" stroke-width="1"/>
<rect x="361.10" y="536.21" width="21" height="22.39" fill="#d0112e"/>
<rect x="361.10" y="530.24" width="21" height="5.97" fill="#c0701e"/>
<rect x="361.10" y="493.73" width="21" height="36.52" fill="#fbc013"/>
<rect x="361.10" y="459.10" width="21" height="34.63" fill="#c4c4ca"/>
<path d="M366.60 536.21 H376.60" stroke="#3a2a20" stroke-width="0.9"/>
<path d="M366.60 530.24 H376.60" stroke="#3a2a20" stroke-width="0.9"/>
<path d="M366.60 493.73 H376.60" stroke="#3a2a20" stroke-width="0.9"/>
<path d="M366.60 459.10 H376.60" stroke="#3a2a20" stroke-width="0.9"/>
<path d="M371.60 558.6 V561.0" stroke="#231f20" stroke-width="1"/>
<text x="279.60" y="569.40" font-size="8.8" text-anchor="end" fill="#231f20" textLength="22.70" lengthAdjust="spacingAndGlyphs" transform="rotate(-45 279.60 569.40)">DMSO</text>
<text x="311.70" y="569.40" font-size="8.8" text-anchor="end" fill="#231f20" textLength="27.50" lengthAdjust="spacingAndGlyphs" transform="rotate(-45 311.70 569.40)">0.03 μM</text>
<text x="343.70" y="569.40" font-size="8.8" text-anchor="end" fill="#231f20" textLength="23.29" lengthAdjust="spacingAndGlyphs" transform="rotate(-45 343.70 569.40)">0.3 μM</text>
<text x="375.70" y="569.40" font-size="8.8" text-anchor="end" fill="#231f20" textLength="16.98" lengthAdjust="spacingAndGlyphs" transform="rotate(-45 375.70 569.40)">3 μM</text>
<text x="323.50" y="603.60" font-size="10.4" text-anchor="middle" fill="#333" textLength="50.50" lengthAdjust="spacingAndGlyphs">JNJ-75276617</text>
<rect x="399.6" y="481.80" width="5.6" height="6" fill="#c4c4ca"/>
<text x="408.40" y="487.70" font-size="8.3" text-anchor="start" fill="#231f20" textLength="30.04" lengthAdjust="spacingAndGlyphs">Live cells</text>
<rect x="399.6" y="492.70" width="5.6" height="6" fill="#fbc013"/>
<text x="408.40" y="498.60" font-size="8.3" text-anchor="start" fill="#231f20" textLength="43.43" lengthAdjust="spacingAndGlyphs">Necrotic cells</text>
<rect x="399.6" y="503.60" width="5.6" height="6" fill="#c0701e"/>
<text x="408.40" y="509.50" font-size="8.3" text-anchor="start" fill="#231f20" textLength="50.34" lengthAdjust="spacingAndGlyphs">Early Apoptosis</text>
<rect x="399.6" y="514.50" width="5.6" height="6" fill="#d0112e"/>
<text x="408.40" y="520.40" font-size="8.3" text-anchor="start" fill="#231f20" textLength="47.92" lengthAdjust="spacingAndGlyphs">Late Apoptosis</text>
</svg>
</body></html>
